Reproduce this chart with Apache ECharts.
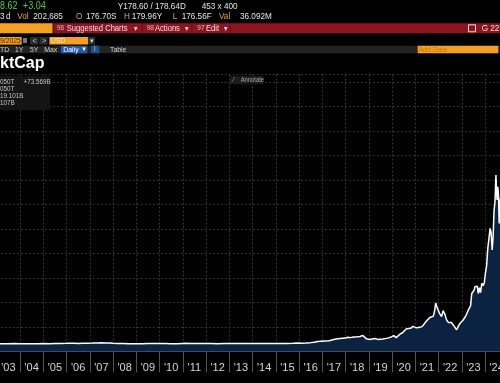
<!DOCTYPE html>
<html><head><meta charset="utf-8">
<script src="https://cdn.jsdelivr.net/npm/echarts@6/dist/echarts.min.js"></script>
<style>html,body{margin:0;padding:0;background:#000;}#c{width:500px;height:383px;}</style>
</head><body><div id="c"></div>
<script>
// ---- data ----
const yearLabels = ["'03","'04","'05","'06","'07","'08","'09","'10","'11","'12","'13","'14","'15","'16","'17","'18","'19","'20","'21","'22","'23","'24"];
const years = [
 2003.00,2003.25,2003.50,2003.75,2004.00,2004.25,2004.50,2004.75,2005.00,2005.25,2005.50,2005.75,
 2006.00,2006.15,2006.35,2006.50,2006.70,2006.90,2007.10,2007.30,2007.50,2007.70,2007.85,
 2008.00,2008.20,2008.45,2008.65,2008.85,2009.00,2009.25,2009.50,2009.75,2010.00,2010.25,2010.50,2010.75,
 2011.00,2011.15,2011.30,2011.50,2011.75,2012.00,2012.25,2012.50,2012.75,2013.00,2013.25,2013.50,2013.75,
 2014.00,2014.25,2014.50,2014.75,2015.00,2015.25,2015.50,2015.75,2015.95,
 2016.10,2016.30,2016.50,2016.65,2016.80,2016.95,2017.10,2017.30,2017.45,2017.60,2017.75,2017.90,
 2018.00,2018.10,2018.20,2018.35,2018.50,2018.62,2018.75,2018.82,2018.90,2018.97,
 2019.05,2019.20,2019.30,2019.40,2019.50,2019.60,2019.70,2019.85,2019.97,
 2020.08,2020.18,2020.25,2020.34,2020.45,2020.52,2020.62,2020.70,2020.80,2020.90,2020.97,
 2021.05,2021.12,2021.20,2021.30,2021.40,2021.48,2021.55,2021.63,2021.70,2021.78,2021.84,2021.88,2021.93,2021.98,
 2022.05,2022.13,2022.20,2022.28,2022.35,2022.42,2022.49,2022.55,2022.60,2022.68,2022.74,2022.78,2022.85,2022.92,2022.97,
 2023.06,2023.12,2023.18,2023.24,2023.28,2023.34,2023.38,2023.43,2023.48,2023.53,2023.57,2023.63,2023.67,2023.71,2023.76,2023.81,2023.86,2023.92,2023.97,
 2024.02,2024.07,2024.12,2024.17,2024.22,2024.26,2024.31,2024.35,2024.39,2024.43,2024.47,2024.50,2024.52,2024.55,2024.58,2024.61,2024.64,2024.68
];
const mktCapT = [
 0.006,0.004,0.007,0.008,0.007,0.005,0.006,0.007,0.008,0.007,0.009,0.011,
 0.013,0.015,0.017,0.012,0.014,0.016,0.018,0.021,0.024,0.020,0.022,
 0.014,0.011,0.010,0.007,0.005,0.005,0.006,0.008,0.009,0.010,0.010,0.006,0.007,
 0.012,0.014,0.011,0.009,0.008,0.009,0.008,0.007,0.008,0.008,0.008,0.009,0.009,
 0.009,0.010,0.011,0.010,0.011,0.012,0.011,0.013,0.018,
 0.017,0.021,0.028,0.036,0.050,0.058,0.062,0.065,0.085,0.100,0.110,0.118,
 0.120,0.138,0.130,0.145,0.150,0.155,0.172,0.140,0.105,0.082,
 0.092,0.105,0.110,0.090,0.095,0.100,0.110,0.125,0.145,
 0.170,0.130,0.150,0.200,0.230,0.250,0.310,0.330,0.320,0.360,0.330,
 0.330,0.370,0.340,0.360,0.420,0.470,0.500,0.540,0.520,0.570,0.700,0.840,0.760,0.700,
 0.620,0.560,0.680,0.600,0.490,0.440,0.410,0.440,0.470,0.360,0.320,0.290,0.360,0.420,0.380,
 0.490,0.520,0.580,0.620,0.690,0.700,0.780,1.030,1.000,1.100,1.170,1.130,1.180,1.030,1.150,1.050,1.240,1.190,1.250,
 1.450,1.600,1.950,2.150,2.360,2.280,1.920,2.200,2.730,2.900,3.450,3.100,2.940,3.210,3.050,2.460,2.900,3.000
];

// ---- chart ----
const FONT = '"Liberation Sans", Arial, sans-serif';
function T(x, y, text, color, size, extra) {
  extra = extra || {};
  return {
    type: 'text', x: x, y: y, z: 100, scaleX: extra.sx || 0.86,
    style: {
      text: text, fill: color,
      font: (extra.bold ? 'bold ' : '') + size + 'px ' + FONT,
      textAlign: 'left', textVerticalAlign: 'middle', align: 'left', verticalAlign: 'middle'
    }
  };
}
function R(x, y, w, h, color, extra) {
  extra = extra || {};
  return { type: 'rect', z: 90, shape: { x: x, y: y, width: w, height: h },
    style: Object.assign({ fill: color }, extra) };
}

const WHITE = '#e4e4e4', ORANGE = '#e9a23b', GREEN = '#3fd23f', PINK = '#f2dcdc';
const graphics = [
  // row 1
  T(0, 6.5, '8.62', GREEN, 10, {sx: 0.9}),
  T(23, 6.5, '+3.04', GREEN, 10, {sx: 0.9}),
  T(117.7, 6.5, 'Y178.60 / 178.64D', WHITE, 9.5),
  T(201.7, 6.5, '453 x 400', WHITE, 9.5),
  // row 2
  T(0, 16.5, '3', WHITE, 9.5), T(6, 16.5, 'd', WHITE, 9.5),
  T(17.3, 16.5, 'Vol', ORANGE, 9.5), T(33.3, 16.5, '202,685', WHITE, 9.5),
  T(76, 16.5, 'O', ORANGE, 9.5), T(86, 16.5, '176.70S', WHITE, 9.5),
  T(124, 16.5, 'H', ORANGE, 9.5), T(131.7, 16.5, '179.96Y', WHITE, 9.5),
  T(172.7, 16.5, 'L', ORANGE, 9.5), T(181.7, 16.5, '176.56F', WHITE, 9.5),
  T(219, 16.5, 'Val', ORANGE, 9.5), T(240, 16.5, '36.092M', WHITE, 9.5),
  // row 3 toolbar
  R(0, 23.3, 52.7, 10, '#f5a023'),
  R(52.7, 23.3, 447.3, 10, '#8c1423'),
  R(53.3, 23.3, 0.8, 10, '#5e0c16'), R(141.7, 23.3, 0.8, 10, '#5e0c16'),
  R(191.7, 23.3, 0.8, 10, '#5e0c16'), R(230, 23.3, 0.8, 10, '#5e0c16'),
  T(57, 28.3, '96', '#e7b7b7', 7.5), T(66.7, 28.3, 'Suggested Charts', PINK, 9.5, {sx: 0.8}),
  T(134, 28.3, '▾', PINK, 8),
  T(146.7, 28.3, '98', '#e7b7b7', 7.5), T(155, 28.3, 'Actions', PINK, 9.5, {sx: 0.8}),
  T(185, 28.3, '▾', PINK, 8),
  T(197.3, 28.3, '97', '#e7b7b7', 7.5), T(206, 28.3, 'Edit', PINK, 9.5, {sx: 0.8}),
  T(224, 28.3, '▾', PINK, 8),
  R(468.5, 24.8, 7, 7, 'none', {stroke: PINK, lineWidth: 1}),
  T(481.7, 28.3, 'G 22-', PINK, 9.5),
  // row 4
  R(0, 37, 21.7, 7.6, '#f5a023'), T(0, 40.8, '9/2025', '#3a2200', 8, {sx: 0.85}),
  R(23, 38, 4, 5, '#777'),
  R(30, 37, 8.3, 7.6, '#2e2e2e'), T(32.5, 40.8, '<', '#ccc', 7, {sx: 1}),
  R(39.3, 37, 8.3, 7.6, '#2e2e2e'), T(42, 40.8, '>', '#ccc', 7, {sx: 1}),
  R(49.3, 37, 39, 7.6, '#f5a023'), T(51, 40.8, 'USD', '#fff2dc', 8, {sx: 0.85}),
  R(88.3, 37, 6.7, 7.6, '#2e2e2e'), T(89.5, 40.8, '▾', '#ddd', 7, {sx: 1}),
  // row 5
  R(0, 45.7, 500, 7.6, '#232323'),
  T(0, 49.5, 'TD', '#d0d0d0', 8), T(15, 49.5, '1Y', '#d0d0d0', 8),
  T(30, 49.5, '5Y', '#d0d0d0', 8), T(44.3, 49.5, 'Max', '#d0d0d0', 8),
  R(61, 45.7, 26.3, 7.6, '#1f5aa8'), T(63.3, 49.5, 'Daily', '#fff', 8), T(81, 49.5, '▼', '#fff', 6, {sx: 1}),
  R(91, 45.7, 8.3, 7.6, '#1f4f8f'), T(92.5, 49.5, '⌇', '#9cc0ff', 7, {sx: 1}),
  T(110, 49.5, 'Table', '#d0d0d0', 8),
  R(417.7, 45.7, 80.6, 7.6, '#f5a023'), T(418.5, 49.5, 'Add Data', '#c47410', 8),
  // title
  T(0, 63.5, 'ktCap', '#ffffff', 16, {bold: true, sx: 1}),
  // legend box
  R(0, 75.7, 50, 34.3, '#141414'),
  T(0, 82.3, '050T', '#c4c4c4', 7, {sx: 0.9}), T(23.5, 82.3, '+73.569B', '#c4c4c4', 7, {sx: 0.9}),
  T(0, 89.3, '050T', '#c4c4c4', 7, {sx: 0.9}),
  T(0, 96, '19.101B', '#c4c4c4', 7, {sx: 0.9}),
  T(0, 102.7, '107B', '#c4c4c4', 7, {sx: 0.9}),
  // annotate button
  R(230, 75.7, 33.3, 8.5, '#1b1b1b'),
  T(233, 80, '⁄', '#999', 7, {sx: 1}), T(240.7, 80, 'Annotate', '#a8a8a8', 6.5, {sx: 0.9})
];

const chart = echarts.init(document.getElementById('c'), null, {renderer: 'canvas'});
chart.setOption({
  backgroundColor: '#000',
  animation: false,
  grid: { left: -3.25, width: 511.5, top: 74.5, height: 276.85, outerBoundsMode: 'none', containLabel: false },
  xAxis: [
    {
      type: 'category', data: yearLabels, boundaryGap: true, position: 'bottom',
      axisLine: { show: true, onZero: false, lineStyle: { color: '#4d5c72', width: 1 } },
      axisTick: { show: true, length: 21, interval: 0, lineStyle: { color: '#555' } },
      axisLabel: { interval: 0, color: '#d6d6d6', fontSize: 11, margin: 11, fontFamily: FONT, hideOverlap: false },
      splitLine: { show: true, interval: 0, lineStyle: { color: '#363636', type: [2, 2] } }
    },
    { type: 'value', min: 2003, max: 2025, show: false }
  ],
  yAxis: {
    type: 'value', min: -0.15, max: 5.5, interval: 0.5, startValue: 0,
    axisLabel: { show: false }, axisLine: { show: false }, axisTick: { show: false },
    splitLine: { show: true, lineStyle: { color: '#333', type: [2, 2] } }
  },
  series: [{
    type: 'line', xAxisIndex: 1,
    data: years.map((y, i) => [y, mktCapT[i]]),
    showSymbol: false, smooth: false,
    lineStyle: { color: '#ffffff', width: 1.5 },
    areaStyle: { color: '#0b2241', origin: 'start', opacity: 1 },
    z: 3
  }],
  graphic: graphics
});
</script>
</body></html>
